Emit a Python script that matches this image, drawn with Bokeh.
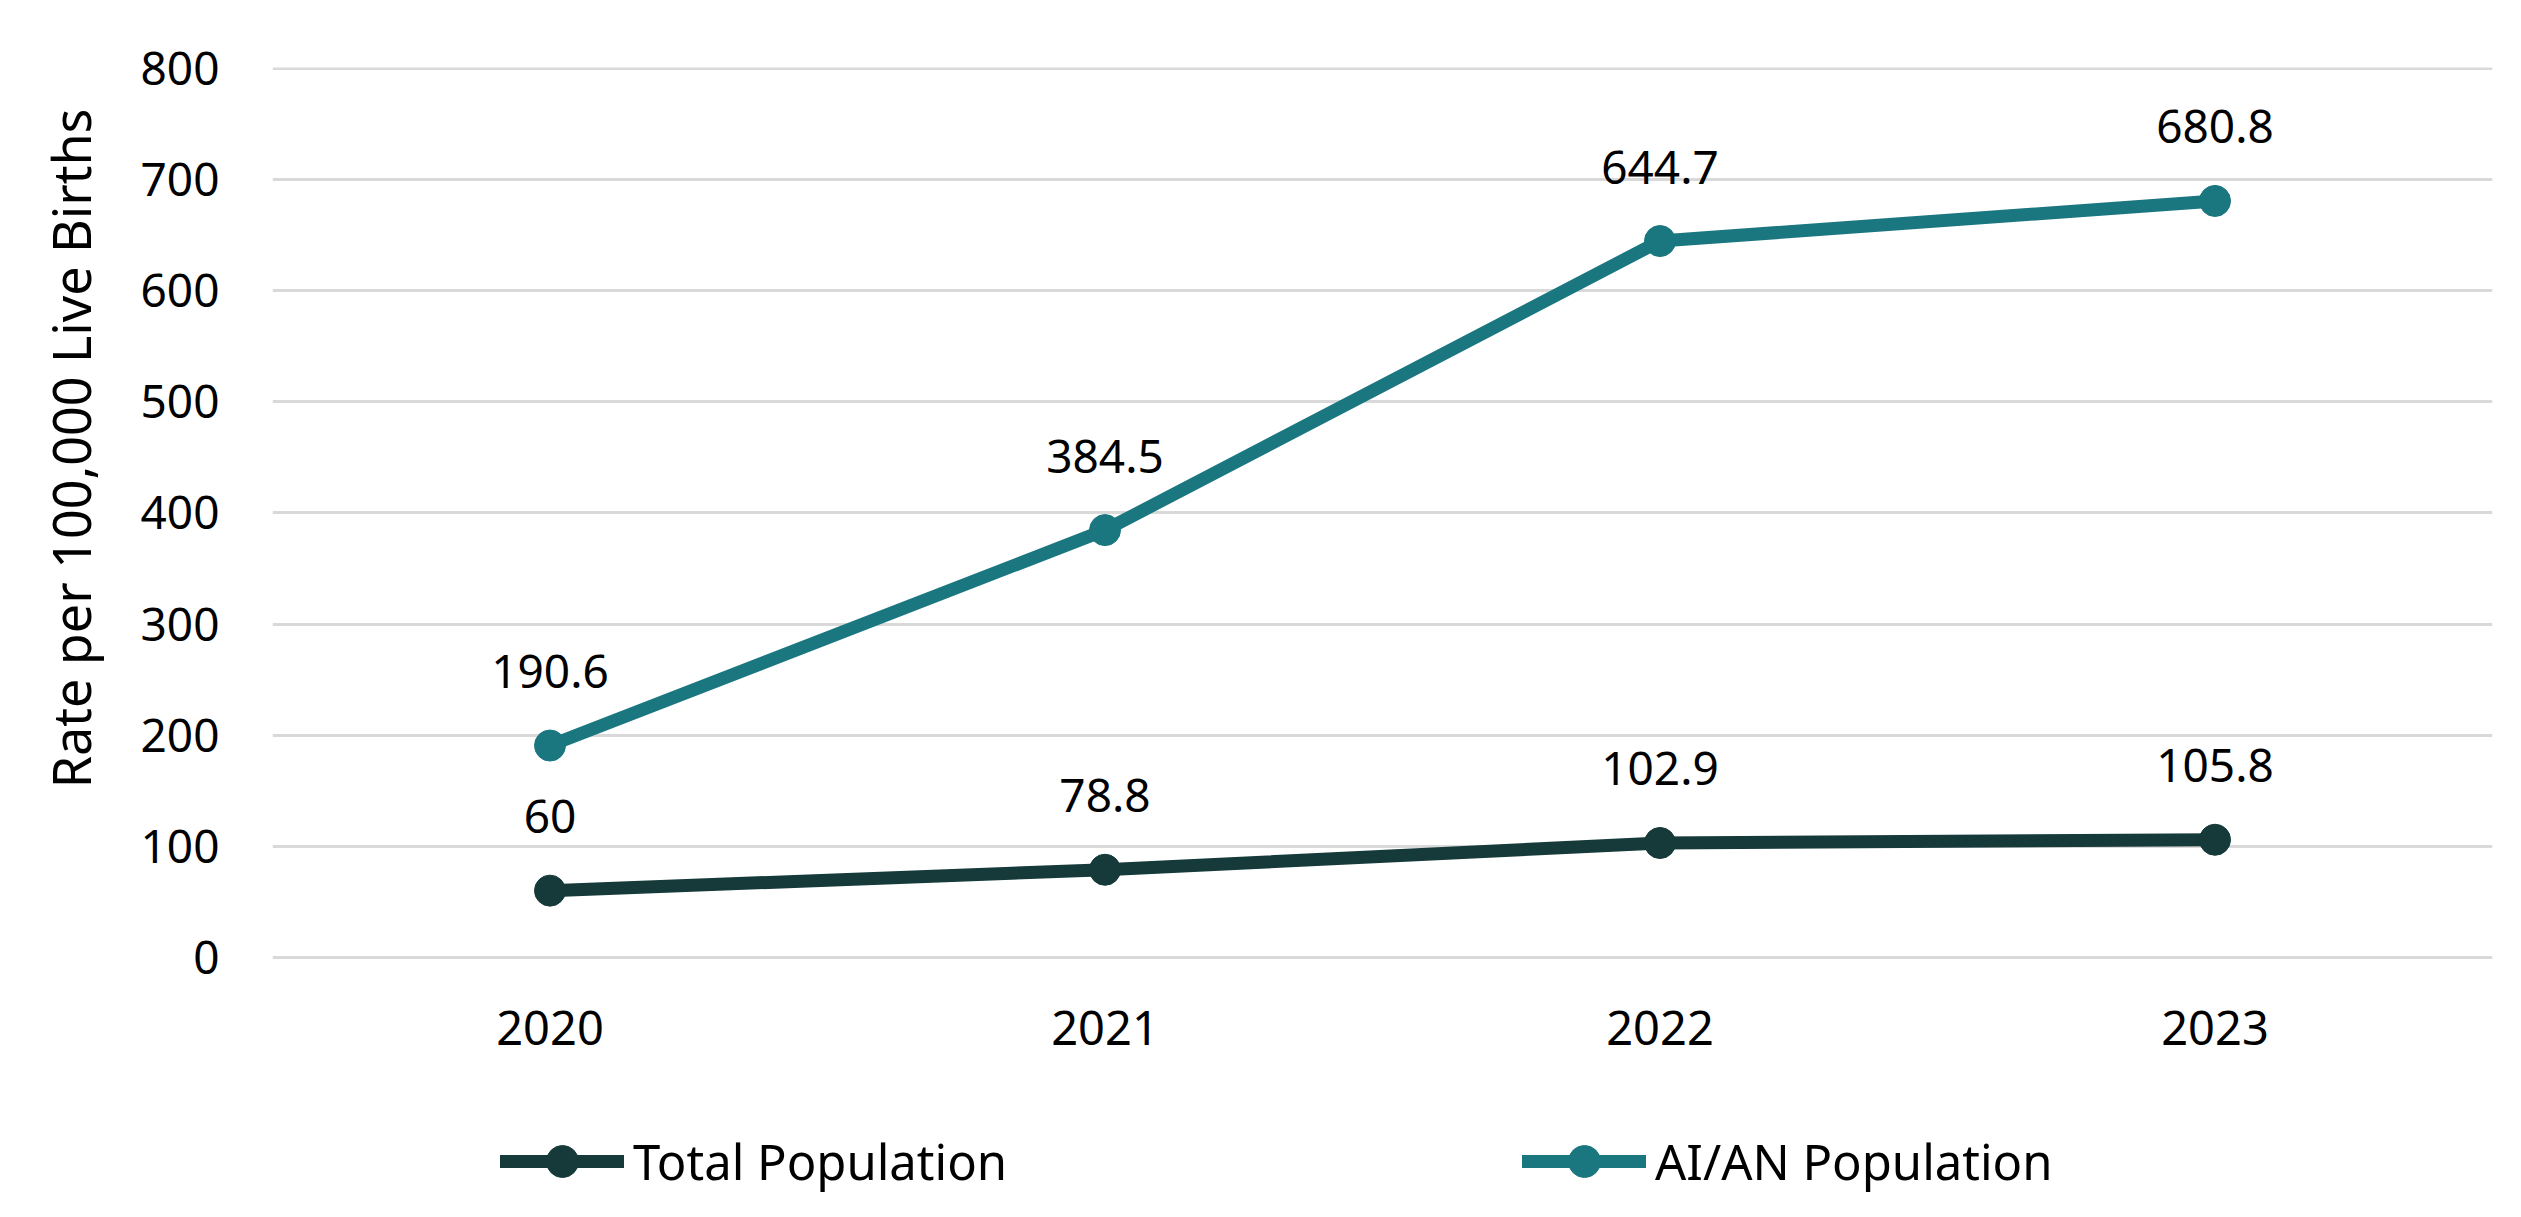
from bokeh.plotting import figure
from bokeh.models import (FactorRange, Range1d, Title, Legend, LegendItem,
                          FixedTicker, ColumnDataSource)
from bokeh.core.properties import value
from bokeh.embed import file_html
from bokeh.resources import INLINE

years = ["2020", "2021", "2022", "2023"]
total_population = [60, 78.8, 102.9, 105.8]
aian_population = [190.6, 384.5, 644.7, 680.8]
y_ticks = [0, 100, 200, 300, 400, 500, 600, 700, 800]
y_title = "Rate per 100,000 Live Births"
series_names = ["Total Population", "AI/AN Population"]

TOTAL_COLOR = "#163939"
AIAN_COLOR = "#1A7780"
FONT = "Noto Sans"

# plot area runs down to the bottom so the legend (below the category labels) is drawn inside it
p = figure(x_range=FactorRange(factors=years, range_padding=0),
           y_range=Range1d(-219.8, 800.9),
           x_axis_location=None,
           width=2505, height=1201,
           output_backend="svg", toolbar_location=None,
           min_border_left=270, min_border_right=13,
           min_border_top=67, min_border_bottom=0)

p.outline_line_color = None
p.background_fill_color = "white"
p.border_fill_color = "white"
p.xgrid.grid_line_color = None
p.ygrid.grid_line_color = "#D9D9D9"
p.ygrid.grid_line_width = 3

p.yaxis.ticker = FixedTicker(ticks=y_ticks)
ax = p.yaxis[0]
ax.axis_line_color = None
ax.major_tick_line_color = None
ax.minor_tick_line_color = None
ax.major_tick_out = 0
ax.major_tick_in = 0
ax.major_label_text_font = FONT
ax.major_label_text_color = "#000000"
ax.major_label_text_font_size = "46px"
ax.major_label_standoff = 53

p.add_layout(Title(text=y_title, align="right", offset=41, standoff=64,
                   text_font=FONT, text_font_size="52px",
                   text_font_style="normal", text_color="#000000"), "left")

# category labels under the baseline (value 0)
cat_src = ColumnDataSource(dict(x=years, y=[y_ticks[0]] * len(years)))
p.text("x", "y", text="x", source=cat_src, y_offset=71,
       text_align="center", text_baseline="middle",
       text_font=value(FONT), text_font_size="47px", text_color="#000000")

src_t = ColumnDataSource(dict(x=years, y=total_population,
                              lab=[f"{v:g}" for v in total_population]))
src_a = ColumnDataSource(dict(x=years, y=aian_population,
                              lab=[f"{v:g}" for v in aian_population]))

l1 = p.line("x", "y", source=src_t, line_color=TOTAL_COLOR, line_width=13,
            line_join="round", line_cap="round")
s1 = p.scatter("x", "y", source=src_t, marker="circle", size=31,
               fill_color=TOTAL_COLOR, line_color=TOTAL_COLOR)
l2 = p.line("x", "y", source=src_a, line_color=AIAN_COLOR, line_width=13,
            line_join="round", line_cap="round")
s2 = p.scatter("x", "y", source=src_a, marker="circle", size=31,
               fill_color=AIAN_COLOR, line_color=AIAN_COLOR)

for src in (src_t, src_a):
    p.text("x", "y", text="lab", source=src, y_offset=-74,
           text_align="center", text_baseline="middle",
           text_font=value(FONT), text_font_size="46px", text_color="#000000")

legend = Legend(items=[LegendItem(label=series_names[0], renderers=[l1, s1]),
                       LegendItem(label=series_names[1], renderers=[l2, s2])],
                orientation="horizontal", location=(228, 0),
                padding=0, spacing=0, margin=0,
                border_line_color=None, background_fill_alpha=0,
                glyph_width=124, glyph_height=80, label_width=889,
                label_standoff=9, label_text_font=FONT,
                label_text_font_size="49px", label_text_color="#000000")
p.add_layout(legend)

open("out.html", "w").write(file_html(p, INLINE))
